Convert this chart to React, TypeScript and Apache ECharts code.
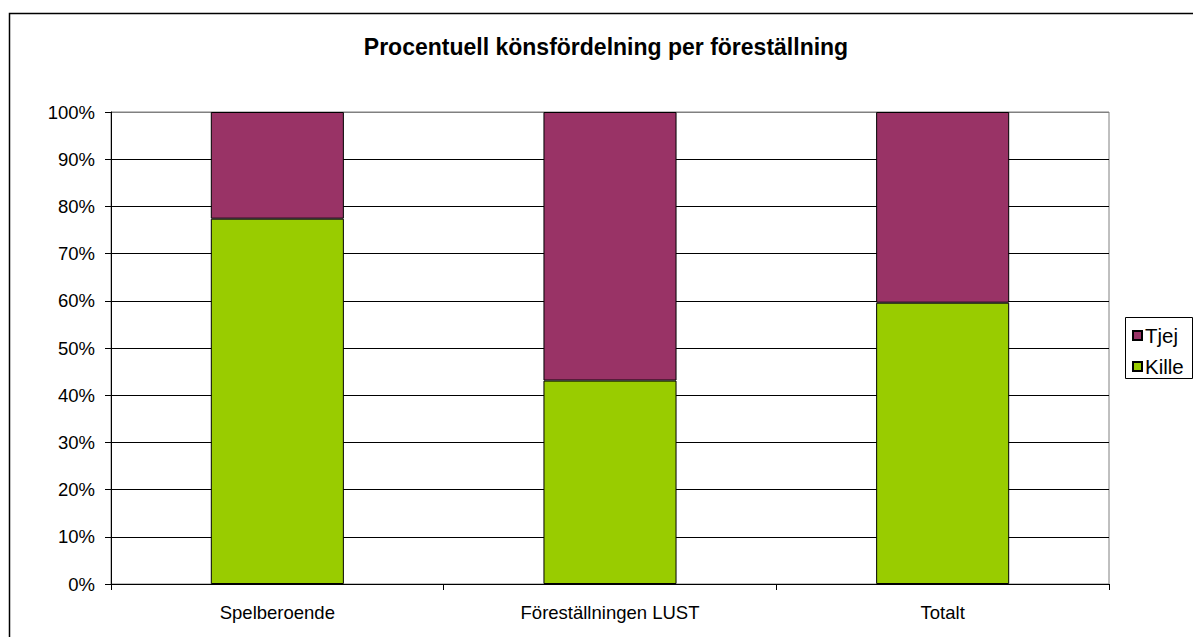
import React, { useEffect, useRef } from "react";
import * as echarts from "echarts";

const categories = ["Spelberoende", "Föreställningen LUST", "Totalt"];
const killeValues = [77.4, 43.1, 59.6];
const tjejValues = [22.6, 56.9, 40.4];
const yTicks = [0, 10, 20, 30, 40, 50, 60, 70, 80, 90, 100];
const titleText = "Procentuell könsfördelning per föreställning";

const FONT = "Liberation Sans, Arial, sans-serif";

export default function App() {
  const ref = useRef<HTMLDivElement>(null);
  useEffect(() => {
    document.body.style.margin = "0";
    const chart = echarts.init(ref.current!, null, { renderer: "svg" });
    const splitColors = yTicks.map((t) => (t === 100 ? "#808080" : "#000000"));
    chart.setOption({
      animation: false,
      backgroundColor: "#ffffff",
      textStyle: { fontFamily: FONT },
      grid: {
        left: 111,
        right: 84,
        top: 112,
        bottom: 53,
        show: true,
        borderColor: "#808080",
        borderWidth: 1,
        containLabel: false,
      },
      graphic: [
        {
          type: "rect",
          shape: { x: 9.5, y: 13.5, width: 1200, height: 700 },
          style: { fill: "none", stroke: "#000", lineWidth: 1.5 },
          silent: true,
        },
        {
          type: "text",
          x: 606,
          y: 47,
          style: {
            text: titleText,
            font: "bold 23px " + FONT,
            fill: "#000",
            textAlign: "center",
            textVerticalAlign: "middle",
          },
        },
        {
          type: "rect",
          shape: { x: 1125.5, y: 317.5, width: 67, height: 61 },
          style: { fill: "#fff", stroke: "#000", lineWidth: 1 },
          z: 0,
        },
      ],
      legend: {
        orient: "vertical",
        left: 1132,
        top: 325,
        padding: 0,
        itemWidth: 9,
        itemHeight: 9,
        itemGap: 10,
        icon: "rect",
        data: ["Tjej", "Kille"],
        textStyle: {
          fontSize: 20.5,
          lineHeight: 20,
          color: "#000",
          fontFamily: FONT,
          padding: [0, 0, 0, -2],
        },
        z: 10,
      },
      xAxis: {
        type: "category",
        data: categories,
        boundaryGap: true,
        axisLine: { show: true, lineStyle: { color: "#000", width: 1 } },
        axisTick: { show: true, length: 6, alignWithLabel: false, lineStyle: { color: "#000" } },
        axisLabel: { color: "#000", fontSize: 18.5, margin: 19, fontFamily: FONT },
      },
      yAxis: {
        type: "value",
        min: 0,
        max: 100,
        interval: 10,
        axisLine: { show: true, lineStyle: { color: "#000", width: 1 } },
        axisTick: { show: true, length: 6, lineStyle: { color: "#000" } },
        axisLabel: {
          color: "#000",
          fontSize: 18.5,
          margin: 16,
          fontFamily: FONT,
          formatter: (v: number) => v + "%",
        },
        splitLine: { show: true, lineStyle: { color: splitColors, width: 1 } },
      },
      series: [
        {
          name: "Kille",
          type: "bar",
          stack: "total",
          barWidth: "40%",
          data: killeValues,
          itemStyle: { color: "#99CC00", borderColor: "#000", borderWidth: 1 },
        },
        {
          name: "Tjej",
          type: "bar",
          stack: "total",
          barWidth: "40%",
          data: tjejValues,
          itemStyle: { color: "#993366", borderColor: "#000", borderWidth: 1 },
        },
      ],
    });
    return () => chart.dispose();
  }, []);
  return (
    <div
      ref={ref}
      style={{ position: "absolute", left: 0, top: 0, width: 1193, height: 637 }}
    />
  );
}
